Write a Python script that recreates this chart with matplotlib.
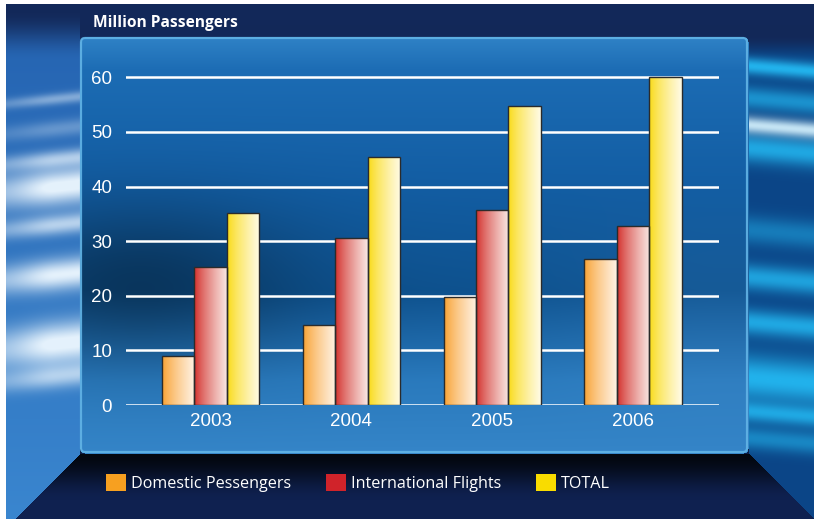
import numpy as np
import matplotlib
matplotlib.use("Agg")
import matplotlib.pyplot as plt
from matplotlib.patches import Patch, FancyBboxPatch


years        = ["2003", "2004", "2005", "2006"]
domestic     = [9.0, 14.7, 19.8, 26.7]
intl         = [25.3, 30.6, 35.7, 32.7]
total        = [35.2, 45.4, 54.8, 60.0]
series_names = ["Domestic Pessengers", "International Flights", "TOTAL"]
y_ticks      = [0, 10, 20, 30, 40, 50, 60]

W, H = 814, 519


def hexrgb(h):
    h = h.lstrip("#")
    return np.array([int(h[i:i + 2], 16) for i in (0, 2, 4)]) / 255.


def smooth(a, lo, hi):
    t = np.clip((a - lo) / (hi - lo), 0, 1)
    return t * t * (3 - 2 * t)


def band(y, c, s):
    return np.exp(-0.5 * ((y - c) / s) ** 2)


def make_background():
    yy, xx = np.mgrid[0:H, 0:W].astype(float)
    t = (yy / H)[..., None]
    img = hexrgb("#13295a") * (1 - t) + hexrgb("#0d1d45") * t

    # left wall with white light streaks
    x_left = np.where(yy <= 453, 80, 80 - (yy - 453) * 65 / 66)
    lmask = xx < x_left
    fade = smooth(yy, 10, 60)[..., None]
    tl = (yy / H)[..., None]
    wall = hexrgb("#2462b0") * (1 - tl) + hexrgb("#3a86cf") * tl
    ys = yy + (xx - 40) * 0.10
    streak = (0.45 * band(ys, 100, 4) + 0.6 * band(ys, 160, 6) + 1.0 * band(ys, 188, 13)
              + 0.7 * band(ys, 226, 7) + 0.95 * band(ys, 276, 11) + 1.0 * band(ys, 345, 15)
              + 0.6 * band(ys, 378, 8) + 0.3 * band(ys, 130, 6))
    streak = np.clip(streak * (0.6 + 0.4 * smooth(xx, 0, 55)), 0, 0.95)[..., None]
    wall = wall * (1 - streak) + hexrgb("#eef8ff") * streak
    wall = img * (1 - fade) + wall * fade
    img = np.where(lmask[..., None], wall, img)

    # right wall with cyan streaks
    x_right = np.where(yy <= 453, 748, 748 + (yy - 453))
    rmask = xx > x_right
    fade = smooth(yy, 35, 60)[..., None]
    wall = np.broadcast_to(hexrgb("#0b4587"), img.shape).copy()
    ys = yy - (xx - 780) * 0.08
    cyan = (1.0 * band(ys, 68, 6) + 0.7 * band(ys, 100, 8) + 0.9 * band(ys, 150, 10)
            + 0.85 * band(ys, 279, 9) + 0.9 * band(ys, 324, 9) + 1.0 * band(ys, 380, 16)
            + 0.8 * band(ys, 414, 7) + 0.6 * band(ys, 440, 8) + 0.5 * band(ys, 232, 10))
    cyan = np.clip(cyan, 0, 1)[..., None]
    wall = wall * (1 - cyan) + hexrgb("#22b2ec") * cyan
    white = np.clip(0.9 * band(ys, 127, 6), 0, 1)[..., None]
    wall = wall * (1 - white) + hexrgb("#d8f4ff") * white
    wall = img * (1 - fade) + wall * fade
    img = np.where(rmask[..., None], wall, img)

    # floor shadow under the panel
    fmask = (yy > 453) & ~lmask & ~rmask
    sh = smooth(yy, 453, 500)[..., None]
    floor = hexrgb("#03070f") * (1 - sh) + hexrgb("#0f2150") * sh
    img = np.where(fmask[..., None], floor, img)

    # glass panel
    px0, px1, py0, py1, r = 80, 748, 37, 453, 5
    cx = np.clip(xx, px0 + r, px1 - r)
    cy = np.clip(yy, py0 + r, py1 - r)
    pmask = (xx >= px0) & (xx <= px1) & (yy >= py0) & (yy <= py1) & ((xx - cx) ** 2 + (yy - cy) ** 2 <= r * r)
    stops = [37, 70, 180, 290, 380, 453]
    cols = [hexrgb(c) for c in ["#2f82c6", "#1c6cb4", "#135ea4", "#0e528f", "#2a7abd", "#3585c8"]]
    panel = np.stack([np.interp(yy, stops, [c[k] for c in cols]) for k in range(3)], axis=-1)
    dark = 0.35 * np.exp(-0.5 * (((xx - 140) / 110) ** 2 + ((yy - 280) / 55) ** 2))
    light = 0.12 * smooth(xx, 450, 720) * smooth(yy, 150, 330) * (1 - smooth(yy, 380, 453))
    panel = panel * (1 - dark[..., None]) * (1 - light[..., None]) + hexrgb("#5aa0dc") * light[..., None]
    img = np.where(pmask[..., None], panel, img)

    img[:, :6] = 1.0
    img[:4, :] = 1.0
    return np.clip(img, 0, 1)


def gradient_bar(ax, bar, left, right):
    t = np.linspace(0, 1, 64) ** 0.8
    grad = (hexrgb(left)[None, :] * (1 - t[:, None]) + hexrgb(right)[None, :] * t[:, None])[None, ...]
    x0, y0 = bar.get_x(), bar.get_y()
    im = ax.imshow(grad, extent=[x0, x0 + bar.get_width(), y0, y0 + bar.get_height()],
                   aspect="auto", interpolation="bicubic", zorder=2.5)
    im.set_clip_path(bar)


fig = plt.figure(figsize=(W / 100, H / 100), dpi=100)

bg = fig.add_axes([0, 0, 1, 1])
bg.imshow(make_background(), extent=(0, W, H, 0), aspect="auto", interpolation="bilinear")
bg.add_patch(FancyBboxPatch((81, 38), 666, 414, boxstyle="round,pad=0,rounding_size=4",
                            fill=False, edgecolor="#62b4e6", lw=1.6, alpha=0.9))
bg.set_xlim(0, W)
bg.set_ylim(H, 0)
bg.axis("off")

ax = fig.add_axes([126 / W, (H - 405) / H, 593 / W, 5.462 * 62 / H])
ax.patch.set_alpha(0)

x = np.arange(len(years))
bw = 0.23
colors = [("#f8a02e", "#fff2e4"), ("#d22b27", "#f8e6e2"), ("#f9da12", "#fffbe6")]
for i, (vals, (c0, c1)) in enumerate(zip([domestic, intl, total], colors)):
    bars = ax.bar(x + (i - 1) * bw, vals, width=bw, color="none", edgecolor="#2b2b2b", lw=1.0, zorder=3)
    for b in bars:
        gradient_bar(ax, b, c0, c1)

ax.set_xlim(-0.6, 3.61)
ax.set_ylim(0, 62)
ax.set_yticks(y_ticks)
ax.set_xticks(x)
ax.set_xticklabels(years)
for s in ax.spines.values():
    s.set_visible(False)
ax.yaxis.grid(True, color="white", lw=1.8)
ax.set_axisbelow(True)
ax.tick_params(axis="y", length=0, pad=10, labelsize=13.5, labelcolor="white")
ax.tick_params(axis="x", length=0, pad=6, labelsize=13.5, labelcolor="white")
for lab in ax.get_xticklabels() + ax.get_yticklabels():
    lab.set_family("Liberation Sans")

fig.text(93 / W, 1 - 27 / H, "Million Passengers", color="white", fontsize=11.2,
         fontweight="bold", family="Open Sans", va="baseline")

handles = [Patch(facecolor=c, edgecolor="none") for c in ["#f7a020", "#d0232a", "#f9dc00"]]
leg = fig.legend(handles, series_names, loc="lower left", bbox_to_anchor=(106 / W, 1 - 492 / H),
                 ncol=3, frameon=False, borderpad=0, borderaxespad=0, handlelength=1.25, handleheight=1.25,
                 handletextpad=0.3, columnspacing=2.15,
                 prop={"family": "Open Sans", "size": 11.6})
for t in leg.get_texts():
    t.set_color("white")

fig.savefig("out.png", dpi=100)
